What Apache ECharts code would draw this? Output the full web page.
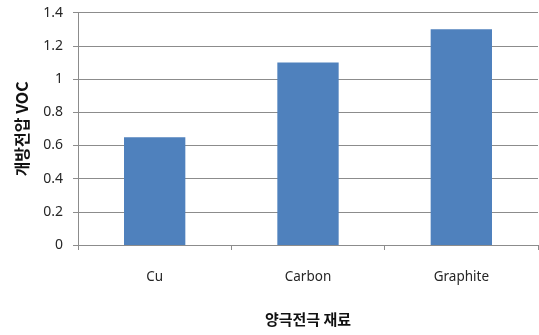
<!DOCTYPE html>
<html>
<head>
<meta charset="utf-8">
<script src="https://cdn.jsdelivr.net/npm/echarts@6/dist/echarts.min.js"></script>
<style>
  html, body { margin: 0; padding: 0; background: #fff; }
  #chart { width: 539px; height: 335px; }
</style>
</head>
<body>
<div id="chart"></div>
<script>
// Open-circuit voltage by anode material
const categories = ['Cu', 'Carbon', 'Graphite'];
const vocValues = [0.65, 1.1, 1.3];
const yTicks = { min: 0, max: 1.4, interval: 0.2 };
const xAxisTitle = '양극전극 재료';
const yAxisTitle = '개방전압 VOC';

const gridColor = '#8c8c8c';
const textColor = '#262626';
const font = '"Noto Sans CJK KR", "Noto Sans", sans-serif';
const labelFont = '"Noto Sans", "Noto Sans CJK KR", sans-serif';

const chart = echarts.init(document.getElementById('chart'));
chart.setOption({
  animation: false,
  grid: { left: 78, right: 1, top: 12.7, bottom: 90, containLabel: false },
  xAxis: {
    type: 'category',
    data: categories,
    name: xAxisTitle,
    nameLocation: 'middle',
    nameGap: 67,
    nameTextStyle: { fontFamily: font, fontSize: 15, fontWeight: 'bold', color: '#111' },
    axisLine: { show: true, lineStyle: { color: gridColor, width: 1 } },
    axisTick: { show: true, alignWithLabel: false, length: 5, lineStyle: { color: gridColor } },
    axisLabel: { fontFamily: labelFont, fontSize: 13.5, color: textColor, margin: 25 },
    splitLine: { show: false }
  },
  yAxis: {
    type: 'value',
    min: yTicks.min,
    max: yTicks.max,
    interval: yTicks.interval,
    name: yAxisTitle,
    nameLocation: 'middle',
    nameGap: 48,
    nameRotate: 90,
    nameTextStyle: { fontFamily: font, fontSize: 16, fontWeight: 'bold', color: '#111' },
    axisLine: { show: true, lineStyle: { color: gridColor, width: 1 } },
    axisTick: { show: true, length: 5, lineStyle: { color: gridColor } },
    axisLabel: { fontFamily: labelFont, fontSize: 14, color: textColor, margin: 15 },
    splitLine: { show: true, lineStyle: { color: gridColor, width: 1 } }
  },
  series: [{
    type: 'bar',
    data: vocValues,
    barWidth: '40%',
    itemStyle: { color: '#4f81bd' }
  }]
});
</script>
</body>
</html>
